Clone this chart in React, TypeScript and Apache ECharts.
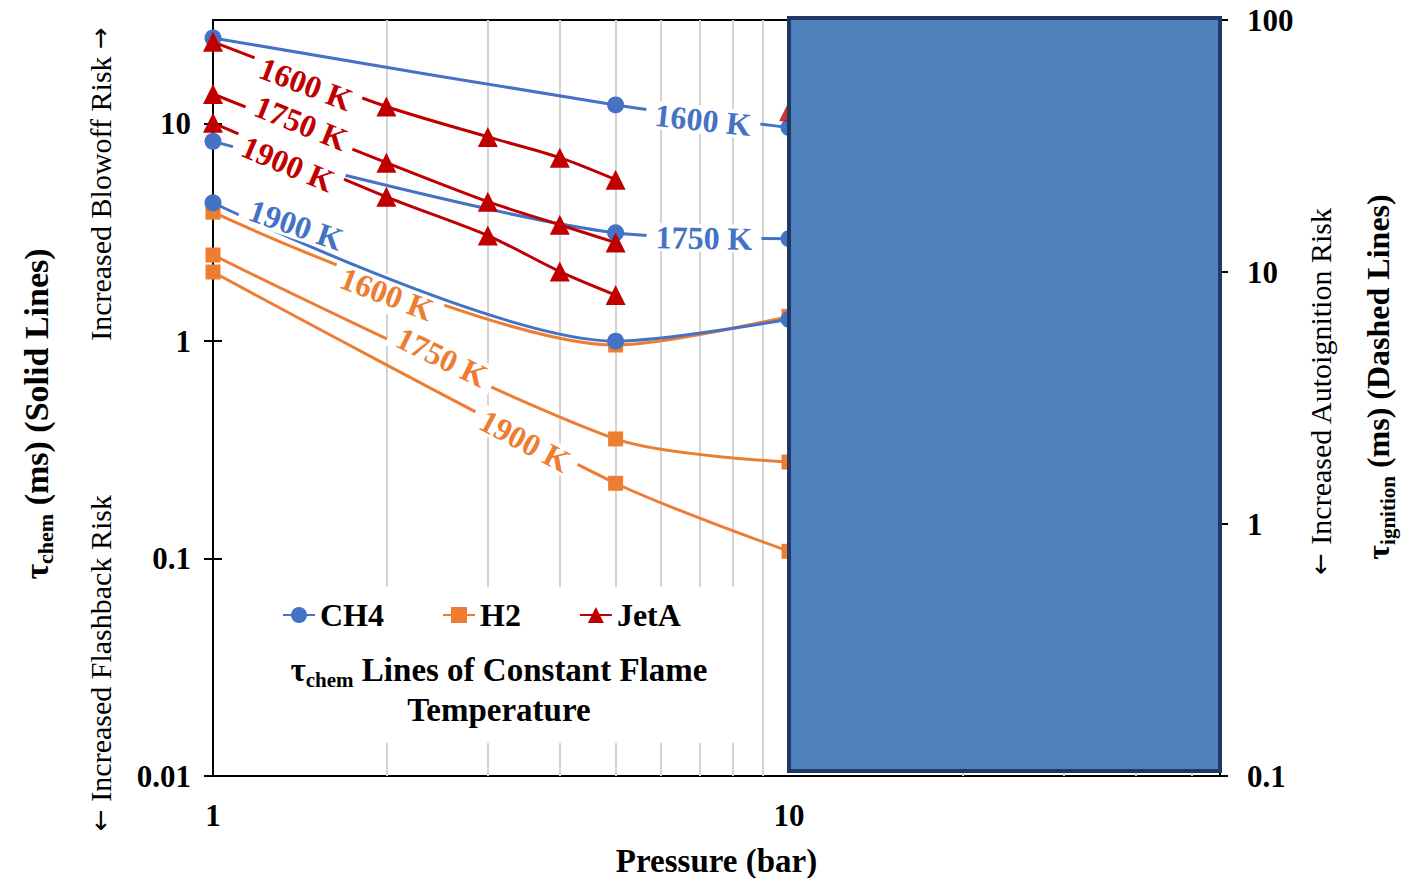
import React, { useEffect, useRef } from "react";
import * as echarts from "echarts";

// ---- data ----
const ch4Pressure = [1, 5, 10];
const ch4_1600K = [24.8, 12.2, 9.6];
const ch4_1750K = [8.3, 3.15, 2.96];
const ch4_1900K = [4.33, 1.0, 1.26];

const h2Pressure = [1, 5, 10];
const h2_1600K = [3.92, 0.96, 1.3];
const h2_1750K = [2.49, 0.355, 0.278];
const h2_1900K = [2.08, 0.222, 0.108];

const jetAPressure = [1, 2, 3, 4, 5];
const jetA_1600K = [23.8, 12.0, 8.7, 6.98, 5.53];
const jetA_1750K = [13.7, 6.62, 4.38, 3.43, 2.84];
const jetA_1900K = [10.1, 4.61, 3.06, 2.09, 1.63];

const jetAExtraPressure = [10];
const jetAExtraValue = [11.4];

const legendNames = ["CH4", "H2", "JetA"];
const xTickValues = [1, 10];
const leftTickValues = [0.01, 0.1, 1, 10];
const rightTickValues = [0.1, 1, 10, 100];
const gridPressures = [2, 3, 4, 5, 6, 7, 8, 9, 20, 30, 40, 50];

const FONT = "'Liberation Serif', 'Times New Roman', serif";
const BLUE = "#4472c4";
const ORANGE = "#ed7d31";
const RED = "#c00000";

const pairs = (xs: number[], ys: number[]) => xs.map((x, i) => [x, ys[i]]);

function lineSeries(name: string, color: string, symbol: string, size: number, xs: number[], ys: number[], z: number) {
  return {
    type: "line",
    name,
    data: pairs(xs, ys),
    xAxisIndex: 0,
    yAxisIndex: 0,
    smooth: 0.28,
    symbol,
    symbolSize: size,
    showAllSymbol: true,
    lineStyle: { color, width: 3 },
    itemStyle: { color },
    z,
    emphasis: { disabled: true },
  };
}

function lineLabel(text: string, color: string, x: number, y: number, deg: number, z = 10, lh = 28) {
  return {
    type: "text",
    x,
    y,
    rotation: (-deg * Math.PI) / 180,
    z,
    style: {
      text,
      fill: color,
      fontSize: 32,
      fontWeight: "bold",
      fontFamily: FONT,
      lineHeight: lh,
      backgroundColor: "#ffffff",
      padding: [0, 9],
      align: "center",
      verticalAlign: "middle",
      textAlign: "center",
      textVerticalAlign: "middle",
    },
  };
}

const arrowRich = {
  a: { fontFamily: "'DejaVu Sans'", fontSize: 26, fill: "#000", lineHeight: 40 },
};

function rotatedText(text: string, x: number, y: number, size: number, bold: boolean, rich?: any) {
  return {
    type: "text",
    x,
    y,
    rotation: Math.PI / 2,
    z: 10,
    style: {
      text,
      fill: "#000",
      fontSize: size,
      fontWeight: bold ? "bold" : "normal",
      fontFamily: FONT,
      lineHeight: 40,
      align: "center",
      verticalAlign: "middle",
      textAlign: "center",
      textVerticalAlign: "middle",
      rich,
    },
  };
}

const tauRich = (main: number, sub: number) => ({
  t: { fontSize: main, fontWeight: "bold", fontFamily: FONT, lineHeight: 40, fill: "#000" },
  s: { fontSize: sub, fontWeight: "bold", fontFamily: FONT, lineHeight: 20, verticalAlign: "bottom", fill: "#000" },
  m: { fontSize: main, fontWeight: "bold", fontFamily: FONT, lineHeight: 40, fill: "#000" },
});

export default function App() {
  const ref = useRef<HTMLDivElement>(null);

  useEffect(() => {
    if (!ref.current) return;
    const chart = echarts.init(ref.current, null, { renderer: "svg" });

    const axisLineStyle = { color: "#000", width: 2 };
    const tickLabel = { fontSize: 31, fontWeight: "bold", fontFamily: FONT, color: "#000" };

    const option: any = {
      animation: false,
      backgroundColor: "#ffffff",
      grid: {
        left: 213,
        right: 196,
        top: 20,
        bottom: 102,
        show: true,
        borderColor: "#000",
        borderWidth: 2,
        containLabel: false,
        outerBoundsMode: "none",
      },
      legend: {
        data: legendNames,
        left: 282,
        top: 599,
        padding: 0,
        itemWidth: 32,
        itemHeight: 20,
        itemGap: 58,
        selectedMode: false,
        textStyle: { fontSize: 32, fontWeight: "bold", fontFamily: FONT, color: "#000" },
      },
      xAxis: {
        type: "log",
        logBase: 10,
        min: 1,
        max: 56,
        axisLine: { show: true, lineStyle: axisLineStyle },
        axisTick: { show: false },
        axisLabel: {
          ...tickLabel,
          customValues: xTickValues,
          formatter: (v: number) => String(v),
          margin: 24,
        },
        splitLine: { show: false },
        name: "Pressure (bar)",
        nameLocation: "middle",
        nameGap: 68,
        nameTextStyle: { fontSize: 33, fontWeight: "bold", fontFamily: FONT, color: "#000" },
      },
      yAxis: [
        {
          type: "log",
          logBase: 10,
          min: 0.01,
          max: 30,
          position: "left",
          axisLine: { show: true, lineStyle: axisLineStyle },
          axisTick: { show: true, customValues: leftTickValues, length: 9, lineStyle: axisLineStyle },
          axisLabel: {
            ...tickLabel,
            customValues: leftTickValues,
            formatter: (v: number) => String(v),
            margin: 22,
          },
          splitLine: { show: false },
        },
        {
          type: "log",
          logBase: 10,
          min: 0.1,
          max: 100,
          position: "right",
          axisLine: { show: true, lineStyle: axisLineStyle },
          axisTick: { show: true, customValues: rightTickValues, length: 8, lineStyle: axisLineStyle },
          axisLabel: {
            ...tickLabel,
            customValues: rightTickValues,
            formatter: (v: number) => String(v),
            margin: 27,
          },
          splitLine: { show: false },
        },
        {
          type: "log",
          logBase: 10,
          min: 0.01,
          max: 30,
          position: "left",
          axisLine: { show: false },
          axisTick: { show: true, inside: true, customValues: leftTickValues, length: 9, lineStyle: axisLineStyle },
          axisLabel: { show: false },
          splitLine: { show: false },
        },
      ],
      series: [
        {
          type: "line",
          name: "gridlines",
          data: [],
          xAxisIndex: 0,
          yAxisIndex: 0,
          markLine: {
            silent: true,
            z: 1,
            symbol: ["none", "none"],
            label: { show: false },
            lineStyle: { color: "#d4d4d4", width: 2, type: "solid" },
            emphasis: { disabled: true },
            data: gridPressures.map((v) => ({ xAxis: v })),
          },
        },
        lineSeries("H2", ORANGE, "rect", 15, h2Pressure, h2_1600K, 2),
        lineSeries("H2", ORANGE, "rect", 15, h2Pressure, h2_1750K, 2),
        lineSeries("H2", ORANGE, "rect", 15, h2Pressure, h2_1900K, 2),
        lineSeries("CH4", BLUE, "circle", 17, ch4Pressure, ch4_1600K, 3),
        lineSeries("CH4", BLUE, "circle", 17, ch4Pressure, ch4_1750K, 3),
        lineSeries("CH4", BLUE, "circle", 17, ch4Pressure, ch4_1900K, 3),
        lineSeries("JetA", RED, "triangle", 20, jetAPressure, jetA_1600K, 3),
        lineSeries("JetA", RED, "triangle", 20, jetAPressure, jetA_1750K, 3),
        lineSeries("JetA", RED, "triangle", 20, jetAPressure, jetA_1900K, 3),
        {
          type: "scatter",
          name: "JetA",
          data: pairs(jetAExtraPressure, jetAExtraValue),
          symbol: "triangle",
          symbolSize: 20,
          itemStyle: { color: RED },
          z: 3,
        },
      ],
      graphic: [
        // white legend box
        {
          type: "rect",
          shape: { x: 250, y: 587, width: 495, height: 156 },
          style: { fill: "#ffffff" },
          z: 1.5,
          silent: true,
        },
        {
          type: "text",
          x: 499,
          y: 690,
          z: 10,
          style: {
            text: "{t|τ}{s|chem}{m| Lines of Constant Flame}\n{m|Temperature}",
            rich: tauRich(33, 21),
            fontSize: 33,
            fontWeight: "bold",
            fontFamily: FONT,
            lineHeight: 40,
            fill: "#000",
            align: "center",
            verticalAlign: "middle",
            textAlign: "center",
            textVerticalAlign: "middle",
          },
        },
        // line labels
        lineLabel("1600 K", RED, 306, 84, 21),
        lineLabel("1750 K", RED, 301, 123, 22),
        lineLabel("1900 K", RED, 288, 164, 23),
        lineLabel("1900 K", BLUE, 296, 225, 19),
        lineLabel("1600 K", ORANGE, 387, 294, 21, 2.5, 38),
        lineLabel("1750 K", ORANGE, 442, 357, 26, 2.5),
        lineLabel("1900 K", ORANGE, 525, 441, 28, 2.5),
        lineLabel("1600 K", BLUE, 703, 120, 6),
        lineLabel("1750 K", BLUE, 704, 238, 1),
        // axis titles
        rotatedText("{t|τ}{s|chem}{m| (ms) (Solid Lines)}", 36, 414, 34, true, tauRich(34, 22)),
        rotatedText("Increased Blowoff Risk {a|→}", 100, 184, 30, false, arrowRich),
        rotatedText("{a|←} Increased Flashback Risk", 100, 663, 30, false, arrowRich),
        rotatedText("{a|←} Increased Autoignition Risk", 1320, 391, 30, false, arrowRich),
        rotatedText("{t|τ}{s|ignition}{m| (ms) (Dashed Lines)}", 1378, 377, 32, true, tauRich(32, 21)),
        // overlay box
        {
          type: "rect",
          shape: { x: 789, y: 18, width: 431, height: 753 },
          style: { fill: "#4f81bd", stroke: "#1f3864", lineWidth: 4 },
          z: 50,
          silent: true,
        },
      ],
    };

    chart.setOption(option);
    return () => chart.dispose();
  }, []);

  return (
    <div
      ref={ref}
      style={{ position: "fixed", left: 0, top: 0, width: 1416, height: 878, background: "#fff" }}
    />
  );
}
